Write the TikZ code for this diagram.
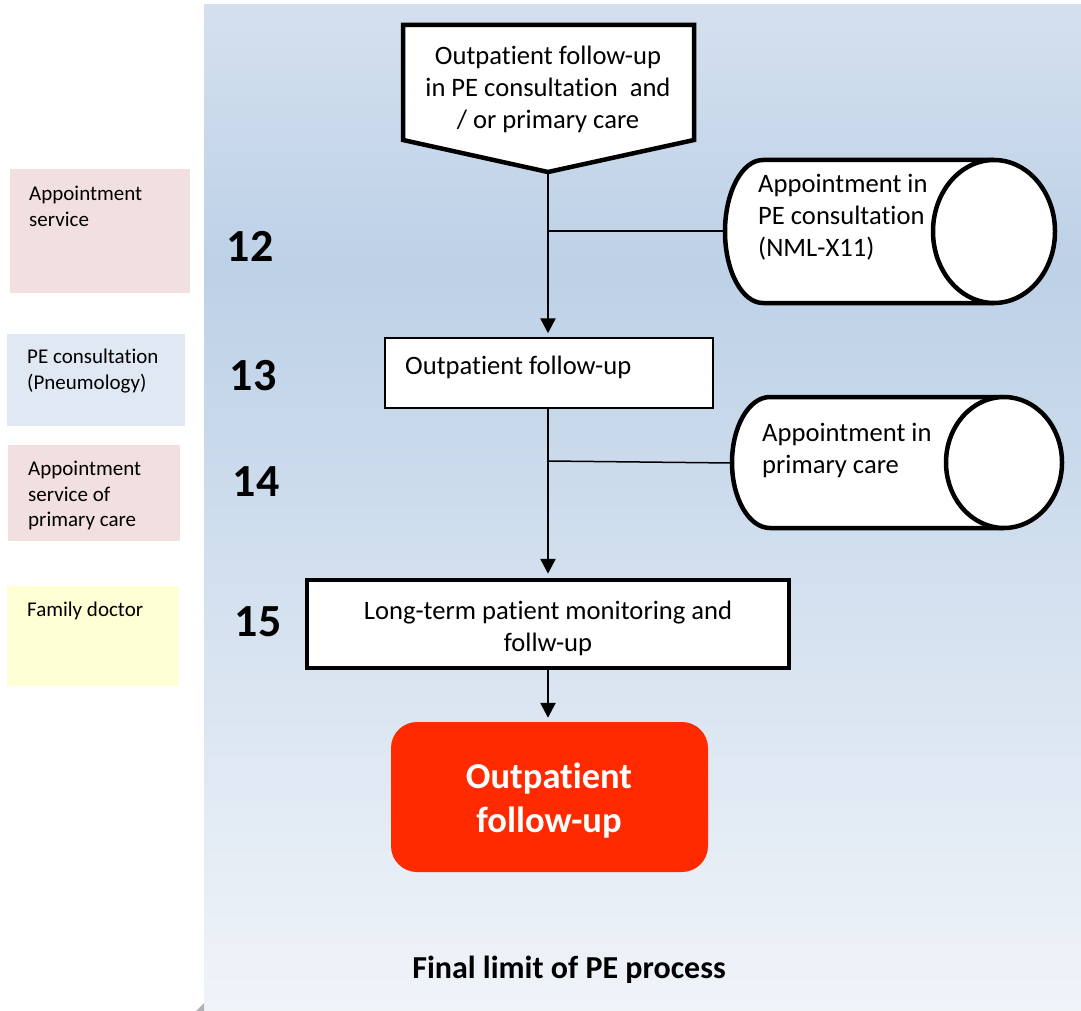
\documentclass[tikz,border=0pt]{standalone}
\usepackage{fontspec}
\setmainfont{Carlito}[Ligatures={NoCommon}]
\usetikzlibrary{arrows.meta}

\definecolor{paneltop}{HTML}{D4E0EE}
\definecolor{panelmid}{HTML}{BDD1E7}
\definecolor{panelbot}{HTML}{F0F4F9}
\definecolor{rolepink}{HTML}{F2E0E0}
\definecolor{roleblue}{HTML}{E0E8F3}
\definecolor{roleyellow}{HTML}{FFFFD6}
\definecolor{endred}{HTML}{FF2A00}

\pgfdeclareverticalshading{panelshade}{100bp}{color(0bp)=(panelbot); color(25bp)=(panelbot); color(62bp)=(panelmid); color(75bp)=(paneltop); color(100bp)=(paneltop)}

\tikzset{
  heavy/.style={line width=4.5pt, line join=miter},
  light/.style={line width=1.5pt},
  flow/.style={line width=2.5pt, shorten >=4pt, -{Triangle[length=15pt,width=15pt]}},
  branch/.style={line width=1.5pt},
  maintext/.style={font=\fontsize{26.6}{32}\selectfont, inner sep=0pt},
  roletext/.style={font=\fontsize{21}{25.8}\selectfont, inner sep=0pt, anchor=west, align=left},
  stepnum/.style={font=\bfseries\fontsize{46}{50}\selectfont, inner sep=0pt},
  rolebox/.style={draw=none, inner sep=0pt, anchor=north west},
}

\begin{document}
\begin{tikzpicture}[x=1pt, y=-1pt]
\useasboundingbox (0,0) rectangle (1081,1011);

% swim-lane panel
\shade[shading=panelshade] (204,5) rectangle (1081,1011);
\fill[gray!60] (196,1011) -- (204,1003) -- (204,1011) -- cycle;

% role boxes on the left
\node[rolebox, fill=rolepink, minimum width=180pt, minimum height=124pt] (r1) at (10,169) {};
\node[rolebox, fill=roleblue, minimum width=178pt, minimum height=92pt] (r2) at (7,334) {};
\node[rolebox, fill=rolepink, minimum width=172pt, minimum height=96pt] (r3) at (8,445) {};
\node[rolebox, fill=roleyellow, minimum width=172pt, minimum height=100pt] (r4) at (7,586) {};
\node[roletext] (t1) at (29,206) {Appointment\\service};
\node[roletext] (t2) at (27,371) {PE consultation\\(Pneumology)};
\node[roletext] (t3) at (28,495.5) {Appointment\\service of\\primary care};
\node[roletext] (t4) at (27,611) {Family doctor};

% step numbers
\node[stepnum] (n12) at (250,246) {12};
\node[stepnum] (n13) at (253,376) {13};
\node[stepnum] (n14) at (256,482) {14};
\node[stepnum] (n15) at (258,622) {15};

% start: off-page connector
\draw[heavy, fill=white] (403,25) -- (694,25) -- (694,140) -- (548,172) -- (403,140) -- cycle;
\node[maintext, align=center] (start) at (548,89.5) {Outpatient follow-up\\in PE consultation~ and\\/ or primary care};
\coordinate (starttip) at (548,172);

% step 13 box
\node[draw, light, fill=white, minimum width=328pt, minimum height=70pt, inner sep=0pt] (s13) at (549,373) {};
\node[maintext, anchor=west] (s13t) at (405,367.5) {Outpatient follow-up};

% step 15 box
\node[draw, heavy, fill=white, minimum width=482pt, minimum height=88pt, inner sep=0pt] (s15) at (548,624) {};
\node[maintext, align=center] (s15t) at (548,628) {Long-term patient monitoring and\\follw-up};

% end terminal
\node[fill=endred, rounded corners=26pt, minimum width=317pt, minimum height=150pt, inner sep=0pt] (fin) at (549.5,797) {};
\node[font=\bfseries\fontsize{36.5}{44}\selectfont, text=white, align=center, inner sep=0pt] (fint) at (549,800.5) {Outpatient\\follow-up};

% stored-data cylinders
\draw[heavy, fill=white] (994,160) -- (763,160) arc[start angle=270, end angle=90, x radius=38, y radius=71.5] -- (994,303);
\draw[heavy, fill=white] (994,231.5) ellipse[x radius=61, y radius=71.5];
\coordinate (c1) at (725,231);
\node[maintext, anchor=west, align=left] (c1t) at (758,217.5) {Appointment in\\PE consultation\\(NML-X11)};

\draw[heavy, fill=white] (1004,397) -- (770,397) arc[start angle=270, end angle=90, x radius=38, y radius=65.5] -- (1004,528);
\draw[heavy, fill=white] (1004,462.5) ellipse[x radius=58, y radius=65.5];
\coordinate (c2) at (732,463);
\node[maintext, anchor=west, align=left] (c2t) at (762,450.5) {Appointment in\\primary care};

% connectors
\coordinate (j1) at (548,231);
\coordinate (j2) at (548,461);
\draw[flow] (starttip) -- (s13.north -| starttip);
\draw[branch] (j1) -- (c1);
\draw[flow] (s13.south -| starttip) -- (s15.north -| starttip);
\draw[branch] (j2) -- (c2);
\draw[flow] (s15.south -| starttip) -- (fin.north -| starttip);

% footer
\node[font=\bfseries\fontsize{32}{36}\selectfont, inner sep=0pt] (foot) at (569,970) {Final limit of PE process};
\end{tikzpicture}
\end{document}
